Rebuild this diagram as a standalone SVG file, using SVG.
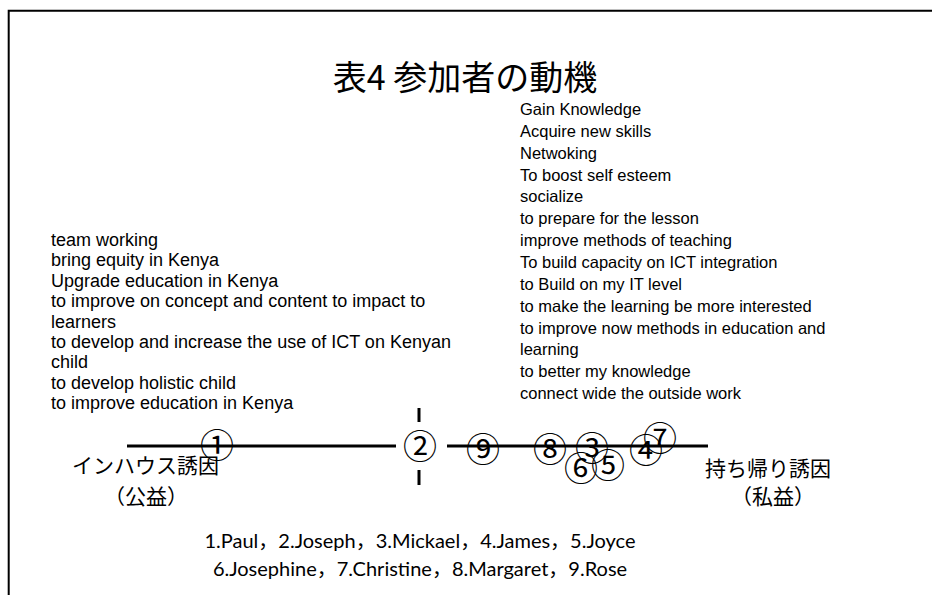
<svg xmlns="http://www.w3.org/2000/svg" width="932" height="595" viewBox="0 0 932 595">
<style>
.frame{fill:none;stroke:#000;stroke-width:2}
.ax{stroke:#000;stroke-width:3;fill:none}
.body{font-family:"Liberation Sans",Arial,sans-serif;font-size:18px;fill:#000}
.rbody{font-family:"Liberation Sans",Arial,sans-serif;font-size:16.5px;fill:#000}
.jp{font-family:"Noto Sans CJK JP","Noto Sans CJK SC",sans-serif;fill:#000}
.num{font-family:"Noto Sans CJK JP","Noto Sans CJK SC",sans-serif;font-size:34px;fill:#000;text-anchor:middle;dominant-baseline:central}
.leg{font-family:"Lato","Noto Sans CJK JP",sans-serif;font-size:20px;fill:#000;text-anchor:middle}
</style>
<rect width="932" height="595" fill="#fff"/>
<path class="frame" d="M8.7,600 V10.7 H940"/>
<g id="title"><text class="jp" x="465" y="90" font-size="34" text-anchor="middle">表4 参加者の動機</text></g>
<g id="left-motives">
<text class="body" x="51" y="246">team working</text>
<text class="body" x="51" y="266.4">bring equity in Kenya</text>
<text class="body" x="51" y="286.8">Upgrade education in Kenya</text>
<text class="body" x="51" y="307.2">to improve on concept and content to impact to</text>
<text class="body" x="51" y="327.6">learners</text>
<text class="body" x="51" y="348">to develop and increase the use of ICT on Kenyan</text>
<text class="body" x="51" y="368.4">child</text>
<text class="body" x="51" y="388.8">to develop holistic child</text>
<text class="body" x="51" y="409.2">to improve education in Kenya</text>
</g>
<g id="right-motives">
<text class="rbody" x="520" y="115">Gain Knowledge</text>
<text class="rbody" x="520" y="136.85">Acquire new skills</text>
<text class="rbody" x="520" y="158.7">Netwoking</text>
<text class="rbody" x="520" y="180.55">To boost self esteem</text>
<text class="rbody" x="520" y="202.4">socialize</text>
<text class="rbody" x="520" y="224.25">to prepare for the lesson</text>
<text class="rbody" x="520" y="246.1">improve methods of teaching</text>
<text class="rbody" x="520" y="267.95">To build capacity on ICT integration</text>
<text class="rbody" x="520" y="289.8">to Build on my IT level</text>
<text class="rbody" x="520" y="311.65">to make the learning be more interested</text>
<text class="rbody" x="520" y="333.5">to improve now methods in education and</text>
<text class="rbody" x="520" y="355.35">learning</text>
<text class="rbody" x="520" y="377.2">to better my knowledge</text>
<text class="rbody" x="520" y="399.05">connect wide the outside work</text>
</g>
<g id="axis">
<line class="ax" x1="127" y1="446" x2="396" y2="446"/>
<line class="ax" x1="447" y1="446" x2="708" y2="446"/>
<line class="ax" x1="419" y1="408" x2="419" y2="422"/>
<line class="ax" x1="419" y1="470" x2="419" y2="485"/>
</g>
<g id="p1"><text class="num" x="217" y="443">①</text></g>
<g id="p2"><text class="num" x="420" y="444">②</text></g>
<g id="p9"><text class="num" x="483" y="447">⑨</text></g>
<g id="p8"><text class="num" x="550" y="447">⑧</text></g>
<g id="p3"><text class="num" x="592" y="446">③</text></g>
<g id="p6"><text class="num" x="581" y="466">⑥</text></g>
<g id="p5"><text class="num" x="608" y="463">⑤</text></g>
<g id="p4"><text class="num" x="646" y="448">④</text></g>
<g id="p7"><text class="num" x="660" y="436">⑦</text></g>
<g id="label-inhouse">
<text class="jp" x="219" y="473" font-size="21" text-anchor="end">インハウス誘因</text>
<text class="jp" x="146" y="504" font-size="21" text-anchor="middle">（公益）</text>
</g>
<g id="label-takehome">
<text class="jp" x="705" y="476" font-size="21">持ち帰り誘因</text>
<text class="jp" x="773" y="504" font-size="21" text-anchor="middle">（私益）</text>
</g>
<g id="legend">
<text class="leg" x="420" y="548">1.Paul，2.Joseph，3.Mickael，4.James，5.Joyce</text>
<text class="leg" x="420" y="576">6.Josephine，7.Christine，8.Margaret，9.Rose</text>
</g>
</svg>
